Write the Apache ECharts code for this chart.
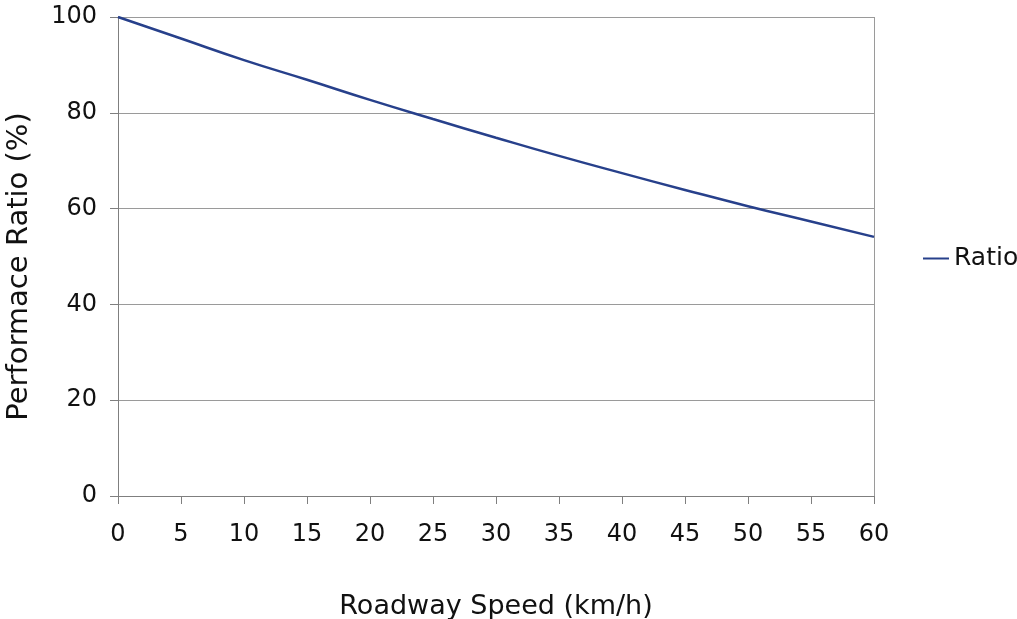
<!DOCTYPE html>
<html><head><meta charset="utf-8">
<script src="https://cdn.jsdelivr.net/npm/echarts@6/dist/echarts.min.js"></script>
<style>html,body{margin:0;padding:0;background:#fff}#c{width:1017px;height:619px}</style>
</head><body><div id="c"></div>
<script>
const speeds = [0,5,10,15,20,25,30,35,40,45,50,55,60];
const ratio = [100,95.5,91.0,86.9,82.7,78.7,74.8,71.0,67.4,63.9,60.5,57.3,54.1];
const seriesName = 'Ratio';
const xTitle = 'Roadway Speed (km/h)';
const yTitle = 'Performace Ratio (%)';
const font = '"DejaVu Sans", Verdana, sans-serif';
const chart = echarts.init(document.getElementById('c'));
chart.setOption({
  animation:false,
  grid:{left:118,right:143,top:17,bottom:123,containLabel:false,outerBoundsMode:'none'},
  legend:{
    data:[{name:seriesName,icon:'rect'}],
    orient:'vertical',left:918,top:241,
    itemWidth:26,itemHeight:2,itemGap:8,
    textStyle:{fontFamily:font,fontSize:25,color:'#111'}
  },
  xAxis:{
    type:'value',min:0,max:60,interval:5,
    name:xTitle,nameLocation:'middle',nameGap:97,
    nameTextStyle:{fontFamily:font,fontSize:27,color:'#111'},
    axisLine:{show:true,onZero:false,lineStyle:{color:'#7f7f7f',width:1}},
    axisTick:{show:true,length:8,inside:false,lineStyle:{color:'#7f7f7f'}},
    axisLabel:{fontFamily:font,fontSize:24,color:'#111',margin:27},
    splitLine:{show:false}
  },
  yAxis:{
    type:'value',min:0,max:100,interval:20,
    name:yTitle,nameLocation:'middle',nameGap:84,
    nameTextStyle:{fontFamily:font,fontSize:29,color:'#111',padding:[0,20,0,0]},
    axisLine:{show:true,lineStyle:{color:'#7f7f7f',width:1}},
    axisTick:{show:true,length:8,lineStyle:{color:'#7f7f7f'}},
    axisLabel:{fontFamily:font,fontSize:24,color:'#111',margin:21},
    splitLine:{show:true,lineStyle:{color:'#9a9a9a',width:1}}
  },
  series:[{
    name:seriesName,type:'line',
    data:speeds.map((s,i)=>[s,ratio[i]]),
    showSymbol:false,smooth:true,
    lineStyle:{color:'#27408b',width:2.5},
    itemStyle:{color:'#27408b'}
  }]
});
// right border of plot area
chart.setOption({graphic:[{type:'line',shape:{x1:874.5,y1:17,x2:874.5,y2:496},style:{stroke:'#9a9a9a',lineWidth:1}}]});
</script></body></html>
